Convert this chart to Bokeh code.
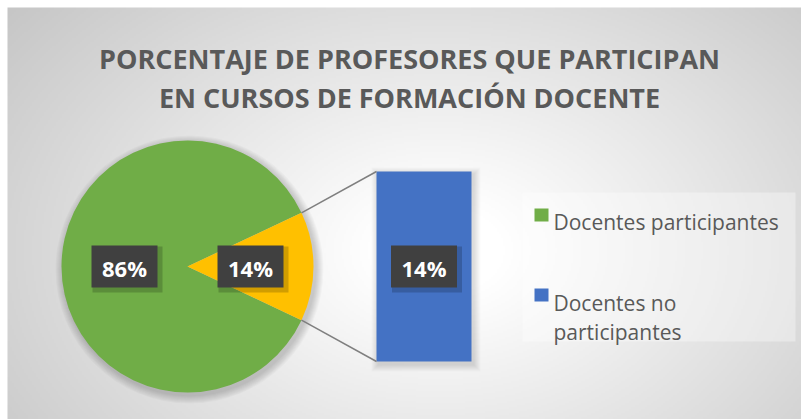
import numpy as np
from bokeh.plotting import figure
from bokeh.models import Range1d
from bokeh.core.properties import value
from bokeh.embed import file_html
from bokeh.resources import INLINE

# ---- data ----
title_lines = ["PORCENTAJE DE PROFESORES QUE PARTICIPAN", "EN CURSOS DE FORMACIÓN DOCENTE"]
pie_categories = ["Docentes participantes", "Docentes no participantes"]
pie_values = [86, 14]
pie_labels = ["86%", "14%"]
bar_values = [14]
bar_labels = ["14%"]
legend_lines = [["Docentes participantes"], ["Docentes no", "participantes"]]
pie_colors = ["#70ad47", "#ffc000"]
bar_color = "#4472c4"

W, H = 801, 419


def Y(ry):             # screen y (downwards) -> data y (upwards)
    return H - ry


p = figure(width=W, height=H, output_backend="svg", toolbar_location=None,
           x_range=Range1d(0, W), y_range=Range1d(0, H),
           min_border=0, border_fill_color="white")
p.axis.visible = False
p.grid.visible = False
p.outline_line_color = None
p.background_fill_color = "white"

# ---- radial gradient chart-area background ----
AX0, AY0 = 7, 7
AW, AH = W - AX0, H - AY0
GW, GH = 397, 206
xs = AX0 + (np.arange(GW) + 0.5) * AW / GW
ys_scr = H - (np.arange(GH) + 0.5) * AH / GH  # row 0 = bottom
XX, YY = np.meshgrid(xs, ys_scr)
d = np.sqrt(((XX - 440) / 430.0) ** 2 + ((YY - 250) / 300.0) ** 2)
g = np.clip(255 - 50 * np.clip(d - 0.15, 0, None), 0, 255).astype(np.uint32)
img = (255 << 24) | (g << 16) | (g << 8) | g
p.image_rgba(image=[img.view(np.uint32)], x=AX0, y=0, dw=AW, dh=AH)

# ---- pie of bar ----
cx, cy, r = 187, Y(266), 126
total = sum(pie_values)
half = pie_values[1] / total * np.pi
starts = [half, -half]
ends = [2 * np.pi - half, half]

for k in range(1, 9):
    p.circle(x=cx + 2, y=cy - 3, radius=r + k, fill_color="black", fill_alpha=0.022, line_color=None)

p.wedge(x=cx, y=cy, radius=r, start_angle=starts, end_angle=ends,
        fill_color=pie_colors, line_color=None)

bar_left, bar_right = 376, 471
bar_bottom = Y(361)
scale = (361 - 171) / bar_values[0]
bar_top = bar_bottom + bar_values[0] * scale
for k in range(1, 8):
    p.quad(left=bar_left - k + 2, right=bar_right + k + 2, bottom=bar_bottom - k - 3, top=bar_top + k - 3,
           fill_color="black", fill_alpha=0.02, line_color=None)
p.quad(left=bar_left, right=bar_right, bottom=bar_bottom, top=bar_top, fill_color=bar_color, line_color=None)

ex = cx + r * np.cos(half)
ey_up = cy + r * np.sin(half)
ey_dn = cy - r * np.sin(half)
p.segment(x0=[ex, ex], y0=[ey_up, ey_dn], x1=[bar_left, bar_left], y1=[bar_top, bar_bottom],
          line_color="#7f7f7f", line_width=1.5)

# ---- data labels ----
lab_x = [cx + 0.5 * r * np.cos(np.pi), cx + 0.5 * r * np.cos(0), (bar_left + bar_right) / 2]
lab_y = [cy, cy, (bar_bottom + bar_top) / 2]
lab_t = pie_labels + bar_labels
bw, bh = 66, 42
p.rect(x=[x + 3 for x in lab_x], y=[y - 3 for y in lab_y], width=bw + 4, height=bh + 4,
       fill_color="black", fill_alpha=0.18, line_color=None)
p.rect(x=lab_x, y=lab_y, width=bw, height=bh, fill_color="#404040", line_color=None)
p.text(x=lab_x, y=[y - 1 for y in lab_y], text=lab_t, text_align="center", text_baseline="middle",
       text_font=value("Open Sans"), text_font_style="bold", text_font_size="22px", text_color="white")

# ---- title ----
p.text(x=[409, 409], y=[Y(58), Y(97)], text=title_lines, text_align="center", text_baseline="alphabetic",
       text_font=value("Open Sans"), text_font_style="bold", text_font_size="27px", text_color="#595959")

# ---- legend ----
p.quad(left=522, right=795, top=Y(192), bottom=Y(341), fill_color="white", fill_alpha=0.35, line_color=None)
p.quad(left=[534, 534], right=[548, 548], top=[Y(208), Y(288)], bottom=[Y(221), Y(301)],
       fill_color=[pie_colors[0], bar_color], line_color=None)
leg_base = [221, 302]
lx, ly, lt = [], [], []
for base, lines in zip(leg_base, legend_lines):
    for i, line in enumerate(lines):
        lx.append(553)
        ly.append(Y(base + 29 * i))
        lt.append(line)
p.text(x=lx, y=ly, text=lt, text_align="left", text_baseline="alphabetic",
       text_font=value("Open Sans"), text_font_size="21px", text_color="#595959")

open("out.html", "w").write(file_html(p, INLINE))
